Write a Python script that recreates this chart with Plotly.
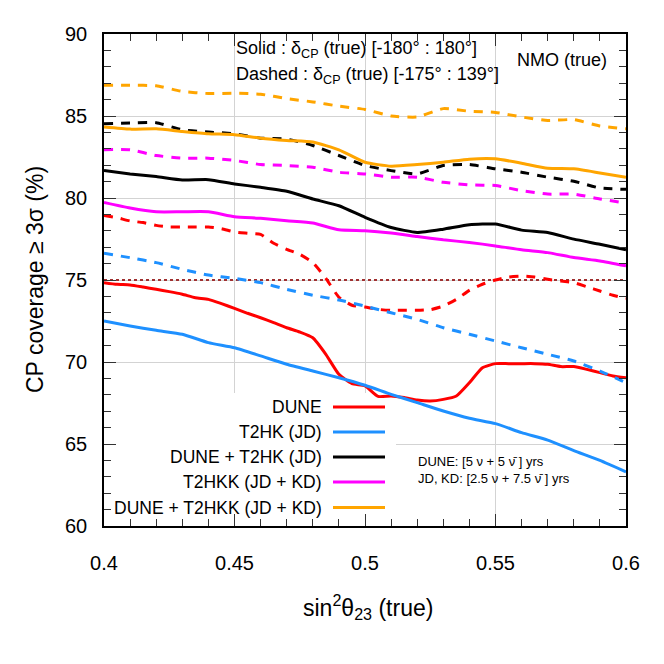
import plotly.graph_objects as go

# x grids
x_coarse = [round(0.40 + 0.01 * k, 3) for k in range(21)]
x_fine = [round(0.40 + 0.005 * k, 4) for k in range(41)]

# DUNE (fine grid)
dune_solid = [74.84, 74.74, 74.70, 74.57, 74.43, 74.29, 74.13, 73.92, 73.82, 73.56,
              73.27, 72.97, 72.70, 72.40, 72.09, 71.83, 71.48, 70.47, 69.25, 68.68,
              68.54, 67.90, 67.93, 67.83, 67.68, 67.62, 67.72, 67.93, 68.74, 69.65,
              69.90, 69.90, 69.90, 69.90, 69.86, 69.72, 69.72, 69.55, 69.35, 69.15, 69.04]
dune_dashed = [78.94, 78.80, 78.60, 78.50, 78.33, 78.23, 78.23, 78.23, 78.23, 78.13,
               77.93, 77.85, 77.78, 77.24, 76.87, 76.57, 76.06, 75.10, 73.95, 73.46,
               73.35, 73.21, 73.15, 73.15, 73.15, 73.19, 73.41, 73.82, 74.37, 74.74,
               75.00, 75.18, 75.24, 75.18, 75.04, 74.94, 74.84, 74.59, 74.33, 74.07, 73.88]

# coarse grid series
t2hk_solid = [72.50, 72.20, 71.93, 71.69, 71.18, 70.87, 70.37, 69.86, 69.45, 69.04,
              68.58, 68.03, 67.52, 67.01, 66.57, 66.24, 65.69, 65.24, 64.60, 64.00, 63.30]
t2hk_dashed = [76.63, 76.36, 76.06, 75.65, 75.30, 75.10, 74.84, 74.43, 74.07, 73.78,
               73.41, 73.00, 72.60, 72.09, 71.69, 71.28, 70.87, 70.47, 70.06, 69.45, 68.74]
dune_t2hk_solid = [81.67, 81.47, 81.31, 81.10, 81.12, 80.86, 80.65, 80.41, 79.94, 79.53,
                   78.82, 78.20, 77.90, 78.10, 78.37, 78.41, 78.04, 77.90, 77.49, 77.18, 76.84]
dune_t2hk_dashed = [84.53, 84.57, 84.59, 84.16, 84.02, 83.92, 83.65, 83.59, 83.20, 82.59,
                    81.98, 81.67, 81.47, 81.98, 82.04, 81.78, 81.57, 81.27, 81.02, 80.61, 80.53]
t2hkk_solid = [79.73, 79.39, 79.16, 79.16, 79.16, 78.86, 78.76, 78.61, 78.47, 78.06,
               78.00, 77.86, 77.65, 77.45, 77.29, 77.08, 76.84, 76.67, 76.37, 76.16, 75.86]
t2hkk_dashed = [82.94, 82.94, 82.59, 82.43, 82.43, 82.29, 82.04, 81.98, 81.88, 81.57,
                81.47, 81.27, 81.27, 80.96, 80.80, 80.76, 80.45, 80.24, 80.24, 79.94, 79.69]
dune_t2hkk_solid = [84.33, 84.20, 84.22, 84.06, 83.92, 83.86, 83.65, 83.51, 83.41, 82.94,
                    82.18, 81.94, 82.04, 82.18, 82.37, 82.39, 82.12, 81.82, 81.78, 81.53, 81.27]
dune_t2hkk_dashed = [86.88, 86.88, 86.84, 86.50, 86.37, 86.39, 86.33, 86.06, 85.86, 85.60,
                     85.40, 85.00, 84.94, 85.45, 85.29, 85.22, 84.94, 84.73, 84.78, 84.39, 84.22]

threshold = 75
x_range = [0.4, 0.6]
y_range = [60, 90]

labels = ["DUNE", "T2HK (JD)", "DUNE + T2HK (JD)", "T2HKK (JD + KD)", "DUNE + T2HKK (JD + KD)"]
colors = ["#ff0000", "#1e90ff", "#000000", "#ff00ff", "#ffa500"]

series = [
    (x_fine, dune_solid, dune_dashed),
    (x_coarse, t2hk_solid, t2hk_dashed),
    (x_coarse, dune_t2hk_solid, dune_t2hk_dashed),
    (x_coarse, t2hkk_solid, t2hkk_dashed),
    (x_coarse, dune_t2hkk_solid, dune_t2hkk_dashed),
]

FONT = "Liberation Sans, Arial, sans-serif"
OFF = 8  # page body margin
W = H = 656
L, T = 104 - OFF, 34 - OFF
PW, PH = 522, 492
R, B = W - L - PW, H - T - PH


def px2paper(px, py):
    # px, py are screen coordinates in the 664x664 window
    return (px - OFF - L) / PW, (T + PH - (py - OFF)) / PH


def paper2data(fx, fy):
    return (x_range[0] + fx * (x_range[1] - x_range[0]),
            y_range[0] + fy * (y_range[1] - y_range[0]))


fig = go.Figure()

# white backdrop behind the legend block (hides gridlines there, keeps axis ticks on top)
bx0, by1 = px2paper(104, 393)
bx1, by0 = px2paper(396, 526)
(dx0, dy0), (dx1, dy1) = paper2data(bx0, by0), paper2data(bx1, by1)
fig.add_trace(go.Scatter(x=[dx0, dx1, dx1, dx0, dx0], y=[dy0, dy0, dy1, dy1, dy0],
                         mode="lines", fill="toself", fillcolor="white",
                         line=dict(width=0, color="white"), showlegend=False, hoverinfo="skip"))

fig.add_trace(go.Scatter(x=x_range, y=[threshold, threshold], mode="lines",
                         line=dict(color="#a03030", width=2, dash="dot"),
                         showlegend=False, hoverinfo="skip"))

for (xs, ys, yd), name, c in zip(series, labels, colors):
    fig.add_trace(go.Scatter(x=xs, y=yd, mode="lines", name=name + " dashed",
                             line=dict(color=c, width=3, dash="9px,8px", shape="spline", smoothing=0.5),
                             showlegend=False))
    fig.add_trace(go.Scatter(x=xs, y=ys, mode="lines", name=name,
                             line=dict(color=c, width=3, shape="spline", smoothing=0.5),
                             showlegend=False))

shapes = []
annotations = []

leg_y = [407, 432, 457, 482, 507.5]
for lab, c, py in zip(labels, colors, leg_y):
    tx, ty = px2paper(324, py)
    annotations.append(dict(x=tx, y=ty, xref="paper", yref="paper", text=lab,
                            showarrow=False, xanchor="right", yanchor="middle",
                            font=dict(family=FONT, size=17.5, color="black")))
    lx0, ly = px2paper(333, py)
    lx1, _ = px2paper(385, py)
    shapes.append(dict(type="line", xref="paper", yref="paper", x0=lx0, x1=lx1, y0=ly, y1=ly,
                       line=dict(color=c, width=3), layer="above"))

# header texts
for txt, px, py, anchor in [
    ("Solid : δ<sub>CP</sub> (true) [-180° : 180°]", 234, 49, "left"),
    ("Dashed : δ<sub>CP</sub> (true) [-175° : 139°]", 234, 76, "left"),
    ("NMO (true)", 609, 60, "right"),
]:
    ax_, ay_ = px2paper(px, py)
    annotations.append(dict(x=ax_, y=ay_, xref="paper", yref="paper", text=txt,
                            showarrow=False, xanchor=anchor, yanchor="middle",
                            font=dict(family=FONT, size=18, color="black")))

for txt, py in [("DUNE: [5 ν + 5 ν̄ ] yrs", 461), ("JD, KD: [2.5 ν + 7.5 ν̄ ] yrs", 478)]:
    ax_, ay_ = px2paper(416, py)
    annotations.append(dict(x=ax_, y=ay_, xref="paper", yref="paper", text=txt,
                            showarrow=False, xanchor="left", yanchor="middle",
                            font=dict(family=FONT, size=13, color="black")))

# axis titles
ax_, ay_ = px2paper(368, 607)
annotations.append(dict(x=ax_, y=ay_, xref="paper", yref="paper",
                        text="sin<sup>2</sup>θ<sub>23</sub> (true)", showarrow=False,
                        xanchor="center", yanchor="middle",
                        font=dict(family=FONT, size=23, color="black")))
ax_, ay_ = px2paper(35, 280)
annotations.append(dict(x=ax_, y=ay_, xref="paper", yref="paper",
                        text="CP coverage ≥ 3σ (%)", showarrow=False, textangle=-90,
                        xanchor="center", yanchor="middle",
                        font=dict(family=FONT, size=23, color="black")))

tick_common = dict(ticks="inside", ticklen=12, tickwidth=1.3, tickcolor="#333333", zeroline=False,
                   showline=True, linecolor="black", linewidth=1.5, mirror="allticks",
                   showgrid=True, gridcolor="#d3d3d3", gridwidth=1, automargin=False)
minor_x = dict(dtick=0.01, tick0=0.4, ticks="inside", ticklen=7, tickwidth=1.3,
               tickcolor="#333333", showgrid=False)
minor_y = dict(dtick=1, tick0=60, ticks="inside", ticklen=7, tickwidth=1.3,
               tickcolor="#333333", showgrid=False)

fig.update_layout(
    width=W, height=H, margin=dict(l=L, r=R, t=T, b=B, autoexpand=False),
    paper_bgcolor="white", plot_bgcolor="white", showlegend=False,
    shapes=shapes, annotations=annotations,
    xaxis=dict(range=x_range, dtick=0.05, tick0=0.4, minor=minor_x,
               ticklabelstandoff=18, tickfont=dict(family=FONT, size=20, color="black"),
               **tick_common),
    yaxis=dict(range=y_range, dtick=5, tick0=60, minor=minor_y,
               ticklabelstandoff=11, tickfont=dict(family=FONT, size=20, color="black"),
               **tick_common),
)

fig.write_html("out.html")
